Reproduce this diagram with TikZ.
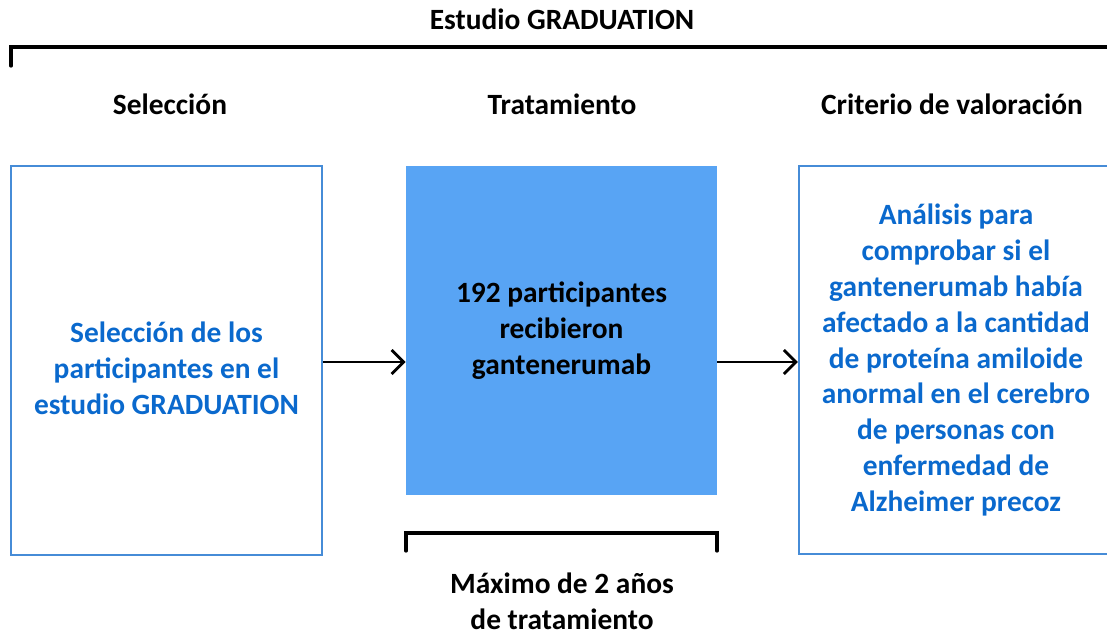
\documentclass[tikz,border=0pt]{standalone}
\usepackage{fontspec}
\setmainfont{Carlito}
\usetikzlibrary{positioning,arrows.meta}
\definecolor{boxline}{RGB}{70,140,215}
\definecolor{boxtext}{RGB}{10,105,205}
\definecolor{boxfill}{RGB}{88,164,244}
\tikzset{
  every node/.style={font=\bfseries\fontsize{14.7}{17.9}\selectfont, align=center},
  openbox/.style={draw=boxline, line width=1.1pt, text=boxtext, minimum width=155.5pt, inner sep=0pt},
  fullbox/.style={fill=boxfill, minimum width=155.5pt, minimum height=164.5pt, inner sep=0pt},
  bracket/.style={line width=1.6pt, line cap=round},
  flow/.style={line width=1.4pt, -{Straight Barb[length=6pt,width=12pt,line width=1.4pt]}}
}
\begin{document}
\begin{tikzpicture}[x=0.5pt,y=-0.5pt]
\useasboundingbox (0,0) rectangle (1107,634);
\node (estudio) at (562,19) {Estudio GRADUATION};
\node (hsel) at (170,104) {Selección};
\node (htrat) at (562,104) {Tratamiento};
\node (hcrit) at (952,104) {Criterio de valoración};
\node[openbox, minimum height=194.5pt] (sel) at (166.5,360.5) {\rule{0pt}{18pt}Selección de los\\participantes en el\\estudio GRADUATION};
\node[fullbox] (trat) at (561.5,330.5) {192 participantes\\recibieron\\gantenerumab};
\node[openbox, minimum width=157pt, minimum height=194pt] (crit) at (956,360) {Análisis para\\comprobar si el\\gantenerumab había\\afectado a la cantidad\\de proteína amiloide\\anormal en el cerebro\\de personas con\\enfermedad de\\Alzheimer precoz};
\node (dur) at (562,601) {Máximo de 2 años\\de tratamiento};
\draw[flow] (sel.east |- 0,362) -- (trat.west |- 0,362);
\draw[flow] (trat.east |- 0,362) -- (crit.west |- 0,362);
\draw[bracket] (11,66) -- (11,47) -- (1112,47);
\draw[bracket] (406,551) -- (406,533) -- (717,533) -- (717,551);
\end{tikzpicture}
\end{document}
